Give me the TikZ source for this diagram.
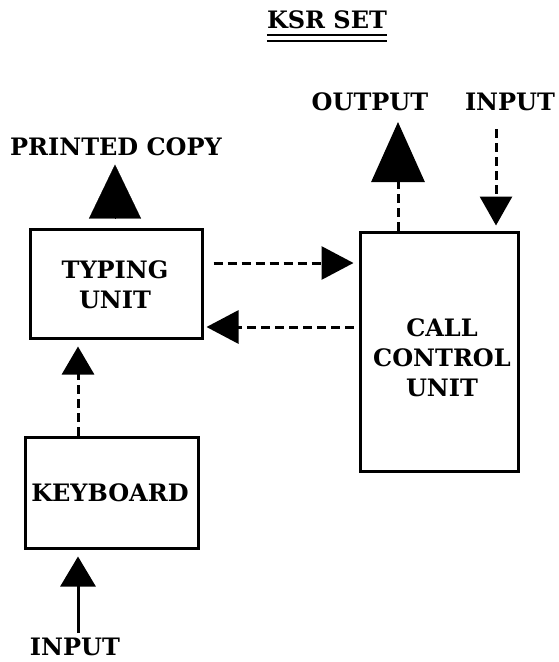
\documentclass[tikz,border=0pt]{standalone}
\usepackage{fontspec}
\setmainfont{DejaVu Serif}
\usetikzlibrary{arrows.meta,calc}
\tikzset{
  boxnode/.style={draw,line width=3pt,inner sep=0pt},
  lbl/.style={font=\bfseries\fontsize{24}{30}\selectfont,inner sep=0pt,align=center},
  dsh/.style={line width=3pt,dash pattern=on 9pt off 5pt},
  sol/.style={line width=3pt},
}
\begin{document}
\begin{tikzpicture}[x=1pt,y=-1pt]
\useasboundingbox (0,0) rectangle (558,662);
% title
\node[font=\bfseries\fontsize{24}{26}\selectfont,inner sep=0pt,anchor=base] (title) at (327,28) {KSR SET};
\draw[line width=2pt] ($(title.base west)+(0,7)$) -- ($(title.base east)+(0,7)$);
\draw[line width=2pt] ($(title.base west)+(0,13)$) -- ($(title.base east)+(0,13)$);
% boxes
\node[boxnode,minimum width=172pt,minimum height=109pt] (typ) at (116,283.5) {};
\node[boxnode,minimum width=173pt,minimum height=111pt] (kbd) at (111.5,492.5) {};
\node[boxnode,minimum width=158pt,minimum height=239pt] (ccu) at (439,351.5) {};
% texts
\node[lbl] (typt) at (115,285) {TYPING\\UNIT};
\node[lbl] (kbdt) at (110,493) {KEYBOARD};
\node[lbl] (ccut) at (442,358) {CALL\\CONTROL\\UNIT};
\node[lbl,anchor=base] (pc) at (116,155) {PRINTED COPY};
\node[lbl,anchor=base] (out) at (370,110) {OUTPUT};
\node[lbl,anchor=base] (inT) at (510,110) {INPUT};
\node[lbl,anchor=base] (inB) at (75,655) {INPUT};
% helper coordinates
\coordinate (r1) at (0,263);
\coordinate (r2) at (0,327);
\coordinate (c1) at (78,0);
\coordinate (c2) at (398,0);
\coordinate (c3) at (496,0);
\coordinate (c4) at (115,0);
\coordinate (topOut) at (398,122);
\coordinate (topIn) at (496,129);
\coordinate (botIn) at (78,633);
% connectors
\draw[dsh,-{Triangle[width=33pt,length=32pt]},shorten <=10pt,shorten >=5pt]
  (typ.east |- r1) -- (ccu.west |- r1);
\draw[dsh,-{Triangle[width=33pt,length=32pt]},shorten <=5pt,shorten >=3pt]
  (ccu.west |- r2) -- (typ.east |- r2);
\draw[dsh,-{Triangle[width=32pt,length=28pt]},shorten >=7pt]
  (kbd.north -| c1) -- (typ.south -| c1);
\draw[sol,-{Triangle[width=35pt,length=30pt]},shorten >=7pt]
  (botIn) -- (kbd.south -| c1);
\draw[dsh,-{Triangle[width=53pt,length=60pt]}]
  (ccu.north -| c2) -- (topOut);
\draw[dsh,-{Triangle[width=32pt,length=29pt]},shorten >=5pt]
  (topIn) -- (ccu.north -| c3);
\draw[line width=0.2pt,-{Triangle[width=52pt,length=54pt]},shorten <=9pt]
  (typ.north -| c4) -- ($(typ.north -| c4)+(0,-63)$);
\end{tikzpicture}
\end{document}
